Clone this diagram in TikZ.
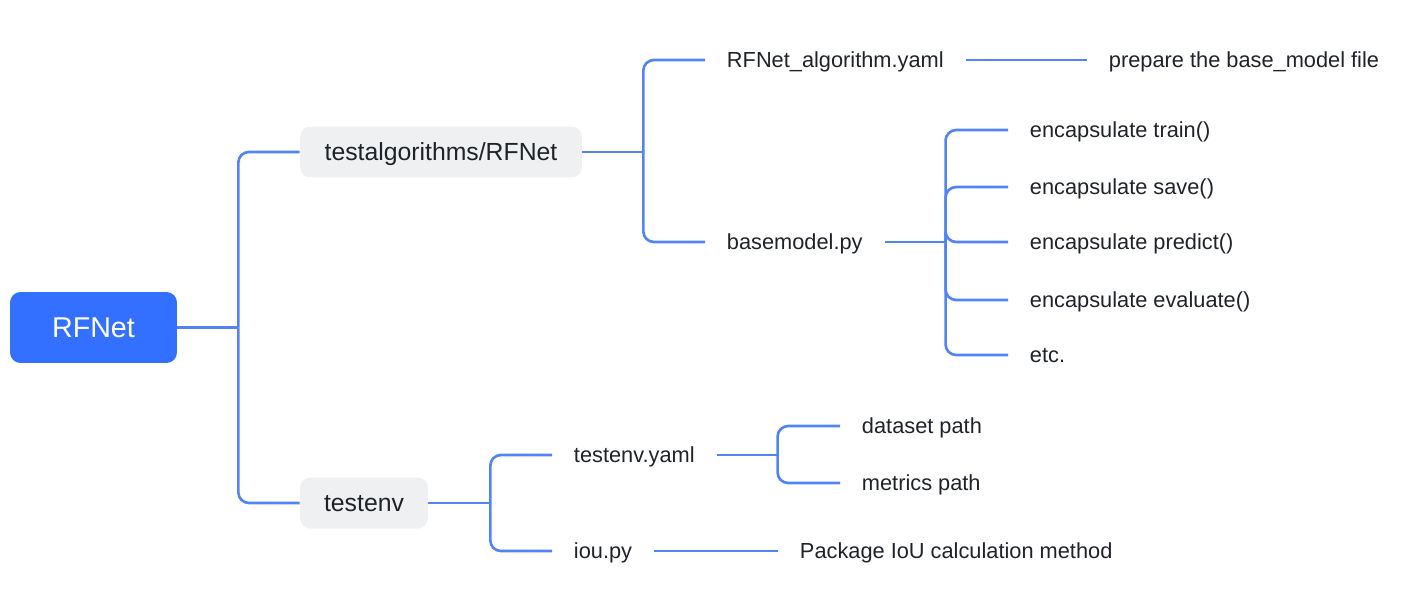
\documentclass[tikz,border=0pt]{standalone}
\usepackage{fontspec}
\setmainfont{Liberation Sans}
\usetikzlibrary{positioning}
\definecolor{rootblue}{RGB}{51,112,255}
\definecolor{linkblue}{RGB}{82,132,245}
\definecolor{boxgray}{RGB}{239,240,242}
\definecolor{textdark}{RGB}{31,35,41}

\begin{document}
\begin{tikzpicture}[x=0.02cm, y=-0.02cm,
    link/.style={linkblue, line width=1.5pt, rounded corners=6pt},
    rootbox/.style={fill=rootblue, text=white, rounded corners=6pt, minimum width=3.34cm, minimum height=1.42cm, font=\fontsize{16.3}{18}\selectfont},
    midbox/.style={fill=boxgray, text=textdark, rounded corners=6pt, minimum height=1.02cm, text height=12pt, text depth=2.2pt, font=\fontsize{14.1}{16}\selectfont},
    leaf/.style={anchor=west, inner xsep=0pt, outer xsep=12.5pt, text=textdark, text height=10.5pt, text depth=1.8pt, font=\fontsize{12.4}{14}\selectfont}]

    % Frame
    \useasboundingbox (0,0) rectangle (1416,592);

    % Boxes
    \node[rootbox] (root) at (93.5,327.5) {RFNet};
    \node[midbox, minimum width=5.64cm] (algo) at (441,152) {testalgorithms/RFNet};
    \node[midbox, minimum width=2.56cm] (env) at (364,503) {testenv};

    % First level leaves
    \node[leaf] (yaml) at (705,60) {RFNet\_algorithm.yaml};
    \node[leaf] (base) at (705,242) {basemodel.py};
    \node[leaf] (envyaml) at (552,455) {testenv.yaml};
    \node[leaf] (iou) at (552,551) {iou.py};

    % Second level leaves
    \node[leaf] (prep) at (1087,60) {prepare the base\_model file};
    \node[leaf] (train) at (1008,130) {encapsulate train()};
    \node[leaf] (save) at (1008,187) {encapsulate save()};
    \node[leaf] (predict) at (1008,242) {encapsulate predict()};
    \node[leaf] (eval) at (1008,300) {encapsulate evaluate()};
    \node[leaf] (etc) at (1008,355) {etc.};
    \node[leaf] (data) at (840,426) {dataset path};
    \node[leaf] (metric) at (840,483) {metrics path};
    \node[leaf] (pkg) at (778,551) {Package IoU calculation method};

    % Root branches
    \draw[link] (root.east) -- ++(61,0) coordinate (rj);
    \draw[link] (rj) |- (algo.west);
    \draw[link] (rj) |- (env.west);

    % testalgorithms branches
    \draw[link] (algo.east) -- ++(61,0) coordinate (aj);
    \draw[link] (aj) |- (yaml.west);
    \draw[link] (aj) |- (base.west);
    \draw[link] (yaml.east) -- (prep.west);

    % basemodel branches
    \draw[link] (base.east) -- ++(61,0) coordinate (bj);
    \foreach \n in {train, save, predict, eval, etc} {
        \draw[link] (bj) |- (\n.west);
    }

    % testenv branches
    \draw[link] (env.east) -- ++(62,0) coordinate (ej);
    \draw[link] (ej) |- (envyaml.west);
    \draw[link] (ej) |- (iou.west);
    \draw[link] (envyaml.east) -- ++(61,0) coordinate (yj);
    \draw[link] (yj) |- (data.west);
    \draw[link] (yj) |- (metric.west);
    \draw[link] (iou.east) -- (pkg.west);
\end{tikzpicture}
\end{document}
